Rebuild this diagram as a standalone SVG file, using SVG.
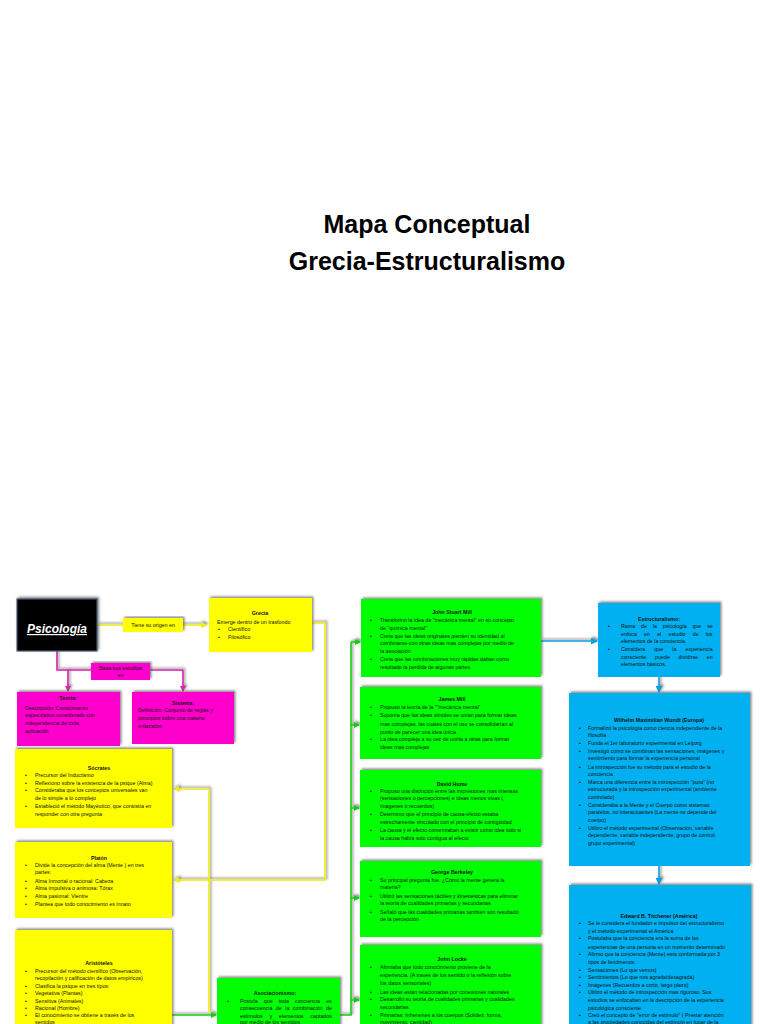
<svg xmlns="http://www.w3.org/2000/svg" width="768" height="1024" viewBox="0 0 768 1024">
<style>
.t{font-family:"Liberation Sans",Arial,sans-serif;font-size:5.3px;fill:#111}
.b{font-weight:bold}
.c{text-anchor:middle}
.title{font-family:"Liberation Sans",Arial,sans-serif;font-size:25px;font-weight:bold;fill:#000;text-anchor:middle}
.y{fill:#FFFF00}
.m{fill:#FF00CC}
.g{fill:#00FF00}
.bl{fill:#00B0F0}
.ln{fill:none;stroke-width:1.6}
</style>
<defs>
<filter id="sh" x="-10%" y="-10%" width="120%" height="120%">
<feDropShadow dx="1.5" dy="-1.5" stdDeviation="0.8" flood-color="#555" flood-opacity="0.7"/>
</filter>
<marker id="ay" markerWidth="6" markerHeight="6" refX="5" refY="3" orient="auto" markerUnits="userSpaceOnUse"><path d="M0,0 L6,3 L0,6 Z" fill="#F0F000"/></marker>
<marker id="am" markerWidth="6" markerHeight="6" refX="5" refY="3" orient="auto" markerUnits="userSpaceOnUse"><path d="M0,0 L6,3 L0,6 Z" fill="#E020B0"/></marker>
<marker id="ag" markerWidth="6" markerHeight="6" refX="5" refY="3" orient="auto" markerUnits="userSpaceOnUse"><path d="M0,0 L6,3 L0,6 Z" fill="#10D010"/></marker>
<marker id="ab" markerWidth="7" markerHeight="7" refX="6" refY="3.5" orient="auto" markerUnits="userSpaceOnUse"><path d="M0,0 L7,3.5 L0,7 Z" fill="#0AA0E0"/></marker>
</defs>
<rect width="768" height="1024" fill="#fff"/>
<text class="title" x="427" y="233">Mapa Conceptual</text>
<text class="title" x="427" y="270">Grecia-Estructuralismo</text>

<g id="connectors" filter="url(#sh)">
<path class="ln" stroke="#F0F000" d="M97,625 H206" marker-end="url(#ay)"/>
<path class="ln" stroke="#F0F000" d="M312,623 H325 V880 H174" marker-end="url(#ay)"/>
<path class="ln" stroke="#F0F000" d="M209,789 H174" marker-end="url(#ay)"/>
<path class="ln" stroke="#F0F000" d="M209,789 V1013"/>
<path class="ln" stroke="#E020B0" d="M57,651 V670 H183"/>
<path class="ln" stroke="#E020B0" d="M68,670 V691" marker-end="url(#am)"/>
<path class="ln" stroke="#E020B0" d="M183,670 V691" marker-end="url(#am)"/>
<path class="ln" stroke="#10D010" d="M172,1015 H216" marker-end="url(#ag)"/>
<path class="ln" stroke="#10D010" d="M340,1015 H351 V642"/>
<path class="ln" stroke="#10D010" d="M351,642 H360" marker-end="url(#ag)"/>
<path class="ln" stroke="#10D010" d="M351,725 H359" marker-end="url(#ag)"/>
<path class="ln" stroke="#10D010" d="M351,808 H359" marker-end="url(#ag)"/>
<path class="ln" stroke="#10D010" d="M351,898 H359" marker-end="url(#ag)"/>
<path class="ln" stroke="#10D010" d="M351,1000 H359" marker-end="url(#ag)"/>
<path class="ln" stroke="#0AA0E0" d="M541,641 H597" marker-end="url(#ab)"/>
<path class="ln" stroke="#0AA0E0" d="M659,677 V692" marker-end="url(#ab)"/>
<path class="ln" stroke="#0AA0E0" d="M659,866 V884" marker-end="url(#ab)"/>
</g>

<g id="psicologia">
<rect x="17" y="599" width="80" height="52" fill="#000" stroke="#4a5a72" stroke-width="1.2" filter="url(#sh)"/>
<text x="57" y="633" font-family="Liberation Sans,Arial,sans-serif" font-size="12" font-weight="bold" font-style="italic" fill="#fff" text-anchor="middle" text-decoration="underline">Psicología</text>
</g>

<g id="lbl-origen">
<rect class="y" x="123" y="618" width="60" height="14" filter="url(#sh)"/>
<text class="t c" x="153" y="627">Tiene su origen en</text>
</g>

<g id="lbl-basa">
<rect class="m" x="91" y="663" width="59" height="17" filter="url(#sh)"/>
<text class="t c" x="120.5" y="670">Basa sus estudios</text>
<text class="t c" x="120.5" y="677">en</text>
</g>

<g id="grecia">
<rect class="y" x="209" y="598" width="103" height="54" filter="url(#sh)"/>
<text class="t b c" x="260" y="615">Grecia</text>
<text class="t" x="217" y="624">Emerge dentro de un trasfondo</text>
<text class="t" x="218" y="631">•</text><text class="t" x="228" y="631">Científico</text>
<text class="t" x="218" y="639">•</text><text class="t" x="228" y="639">Filosófico</text>
</g>

<g id="teoria">
<rect class="m" x="17" y="692" width="103" height="54" filter="url(#sh)"/>
<text class="t b c" x="68" y="700">Teoría:</text>
<text class="t" x="25" y="710">Descripción: Conocimiento</text>
<text class="t" x="25" y="717">especulativo considerado con</text>
<text class="t" x="25" y="725">independencia de toda</text>
<text class="t" x="25" y="733">aplicación</text>
</g>

<g id="sistema">
<rect class="m" x="132" y="692" width="102" height="52" filter="url(#sh)"/>
<text class="t b c" x="183" y="705">Sistema:</text>
<text class="t" x="138" y="712">Definición: Conjunto de reglas y</text>
<text class="t" x="138" y="720">principios sobre una materia</text>
<text class="t" x="138" y="728">enlazados</text>
</g>

<g id="socrates">
<rect class="y" x="15" y="749" width="157" height="79" filter="url(#sh)"/>
<text class="t b c" x="99" y="770">Sócrates</text>
<text class="t" x="25" y="777">•</text><text class="t" x="35" y="777">Precursor del Inductismo</text>
<text class="t" x="25" y="785">•</text><text class="t" x="35" y="785">Reflexiono sobre la existencia de la psique (Alma)</text>
<text class="t" x="25" y="792">•</text><text class="t" x="35" y="792">Consideraba que los conceptos universales van</text>
<text class="t" x="35" y="800">de lo simple a lo complejo</text>
<text class="t" x="25" y="808">•</text><text class="t" x="35" y="808">Estableció el método Mayéutico, que consistía en</text>
<text class="t" x="35" y="816">responder con otra pregunta</text>
</g>

<g id="platon">
<rect class="y" x="15" y="842" width="157" height="76" filter="url(#sh)"/>
<text class="t b c" x="99" y="860">Platón</text>
<text class="t" x="25" y="867">•</text><text class="t" x="35" y="867">Divide la concepción del alma (Mente ) en tres</text>
<text class="t" x="35" y="874">partes:</text>
<text class="t" x="25" y="883">•</text><text class="t" x="35" y="883">Alma Inmortal o racional: Cabeza</text>
<text class="t" x="25" y="890">•</text><text class="t" x="35" y="890">Alma impulsiva o animosa: Tórax</text>
<text class="t" x="25" y="898">•</text><text class="t" x="35" y="898">Alma pasional: Vientre</text>
<text class="t" x="25" y="906">•</text><text class="t" x="35" y="906">Plantea que todo conocimiento es innato</text>
</g>

<g id="aristoteles">
<rect class="y" x="15" y="930" width="157" height="100" filter="url(#sh)"/>
<text class="t b c" x="99" y="965">Aristóteles</text>
<text class="t" x="25" y="973">•</text><text class="t" x="35" y="973">Precursor del método científico (Observación,</text>
<text class="t" x="35" y="980">recopilación y calificación de datos empíricos)</text>
<text class="t" x="25" y="988">•</text><text class="t" x="35" y="988">Clasifica la psique en tres tipos:</text>
<text class="t" x="25" y="995">•</text><text class="t" x="35" y="995">Vegetativa (Plantas)</text>
<text class="t" x="25" y="1003">•</text><text class="t" x="35" y="1003">Sensitiva (Animales)</text>
<text class="t" x="25" y="1010">•</text><text class="t" x="35" y="1010">Racional (Hombre)</text>
<text class="t" x="25" y="1017">•</text><text class="t" x="35" y="1017">El conocimiento se obtiene a través de los</text>
<text class="t" x="35" y="1024">sentidos</text>
</g>

<g id="asociacionismo">
<rect class="g" x="217" y="978" width="123" height="50" filter="url(#sh)"/>
<text class="t b c" x="275" y="995">Asociacionismo:</text>
<text class="t" x="227" y="1003">•</text><text class="t" x="240" y="1003" word-spacing="4.6">Postula que toda conciencia es</text>
<text class="t" x="240" y="1010" word-spacing="2">consecuencia de la combinación de</text>
<text class="t" x="240" y="1018" word-spacing="5.4">estímulos y elementos captados</text>
<text class="t" x="240" y="1024">por medio de los sentidos</text>
</g>

<g id="jsmill">
<rect class="g" x="361" y="599" width="180" height="78" filter="url(#sh)"/>
<text class="t b c" x="452" y="614">John Stuart Mill</text>
<text class="t" x="370" y="622">•</text><text class="t" x="380" y="622">Transformó la idea de "mecánica mental" en su concepto</text>
<text class="t" x="380" y="630">de "química mental"</text>
<text class="t" x="370" y="638">•</text><text class="t" x="380" y="638">Creía que las ideas originales pierden su identidad al</text>
<text class="t" x="380" y="645">combinarse con otras ideas mas complejas por medio de</text>
<text class="t" x="380" y="653">la asociación</text>
<text class="t" x="370" y="661">•</text><text class="t" x="380" y="661">Creía que las combinaciones muy rápidas daban como</text>
<text class="t" x="380" y="669">resultado la perdida de algunas partes</text>
</g>

<g id="jamesmill">
<rect class="g" x="360" y="687" width="181" height="72" filter="url(#sh)"/>
<text class="t b c" x="452" y="701">James Mill</text>
<text class="t" x="370" y="709">•</text><text class="t" x="380" y="709">Propuso la teoría de la ""mecánica mental"</text>
<text class="t" x="370" y="717">•</text><text class="t" x="380" y="717">Suponía que las ideas simples se unían para formar ideas</text>
<text class="t" x="380" y="726">mas complejas, las cuales con el uso se consolidarían al</text>
<text class="t" x="380" y="734">punto de parecer una idea única.</text>
<text class="t" x="370" y="741">•</text><text class="t" x="380" y="741">La idea compleja a su vez de unirla a otras para formar</text>
<text class="t" x="380" y="749">ideas mas complejas</text>
</g>

<g id="hume">
<rect class="g" x="360" y="770" width="181" height="77" filter="url(#sh)"/>
<text class="t b c" x="452" y="786">David Hume</text>
<text class="t" x="370" y="793">•</text><text class="t" x="380" y="793">Propuso una distinción entre las impresiones mas intensas</text>
<text class="t" x="380" y="800">(sensaciones o percepciones) e ideas menos vivas (</text>
<text class="t" x="380" y="808">imágenes o recuerdos)</text>
<text class="t" x="370" y="816">•</text><text class="t" x="380" y="816">Determino que el principio de causa-efecto estaba</text>
<text class="t" x="380" y="824">estrechamente vinculado con el principio de contigüidad</text>
<text class="t" x="370" y="832">•</text><text class="t" x="380" y="832">La causa y el efecto comenzaban a existir como idea solo si</text>
<text class="t" x="380" y="840">la causa había sido contigua al efecto</text>
</g>

<g id="berkeley">
<rect class="g" x="360" y="861" width="181" height="76" filter="url(#sh)"/>
<text class="t b c" x="452" y="874">George Berkeley</text>
<text class="t" x="370" y="882">•</text><text class="t" x="380" y="882">Su principal pregunta fue, ¿Cómo la mente genera la</text>
<text class="t" x="380" y="889">materia?</text>
<text class="t" x="370" y="898">•</text><text class="t" x="380" y="898">Utilizó las sensaciones táctiles y kinestésicas para eliminar</text>
<text class="t" x="380" y="905">la teoría de cualidades primarias y secundarias</text>
<text class="t" x="370" y="914">•</text><text class="t" x="380" y="914">Señaló que las cualidades primarias también son resultado</text>
<text class="t" x="380" y="921">de la percepción</text>
</g>

<g id="locke">
<rect class="g" x="360" y="945" width="181" height="85" filter="url(#sh)"/>
<text class="t b c" x="452" y="961">John Locke</text>
<text class="t" x="370" y="969">•</text><text class="t" x="380" y="969">Afirmaba que todo conocimiento proviene de la</text>
<text class="t" x="380" y="977">experiencia. (A través de los sentido o la reflexión sobre</text>
<text class="t" x="380" y="985">los datos sensoriales)</text>
<text class="t" x="370" y="994">•</text><text class="t" x="380" y="994">Las ideas están relacionadas por conexiones naturales</text>
<text class="t" x="370" y="1001">•</text><text class="t" x="380" y="1001">Desarrollo su teoría de cualidades primarias y cualidades</text>
<text class="t" x="380" y="1009">secundarias</text>
<text class="t" x="370" y="1017">•</text><text class="t" x="380" y="1017">Primarias: Inherentes a los cuerpos (Solidez, forma,</text>
<text class="t" x="380" y="1024">movimiento, cantidad)</text>
</g>

<g id="estructuralismo">
<rect class="bl" x="598" y="603" width="122" height="74" filter="url(#sh)"/>
<text class="t b c" x="659" y="621">Estructuralismo:</text>
<text class="t" x="608" y="628">•</text><text class="t" x="621" y="628" word-spacing="4.4">Rama de la psicología que se</text>
<text class="t" x="621" y="636" word-spacing="5.7">enfoca en el estudio de los</text>
<text class="t" x="621" y="643">elementos de la conciencia.</text>
<text class="t" x="608" y="651">•</text><text class="t" x="621" y="651" word-spacing="7.7">Considera que la experiencia</text>
<text class="t" x="621" y="659" word-spacing="7.3">consciente puede dividirse en</text>
<text class="t" x="621" y="666">elementos básicos.</text>
</g>

<g id="wundt">
<rect class="bl" x="569" y="693" width="181" height="173" filter="url(#sh)"/>
<text class="t b c" x="659" y="722">Wilhelm Maximilian Wundt (Europa)</text>
<text class="t" x="579" y="730">•</text><text class="t" x="588" y="730">Formalizó la psicología como ciencia independiente de la</text>
<text class="t" x="588" y="737">filosofía</text>
<text class="t" x="579" y="745">•</text><text class="t" x="588" y="745">Funda el 1er laboratorio experimental en Leipzig</text>
<text class="t" x="579" y="753">•</text><text class="t" x="588" y="753">Investigó como se combinan las sensaciones, imágenes y</text>
<text class="t" x="588" y="760">sentimiento para formar la experiencia personal</text>
<text class="t" x="579" y="769">•</text><text class="t" x="588" y="769">La introspección fue su método para el estudio de la</text>
<text class="t" x="588" y="776">conciencia</text>
<text class="t" x="579" y="784">•</text><text class="t" x="588" y="784">Marca una diferencia entre la introspección "pura" (no</text>
<text class="t" x="588" y="791">estructurada y la introspección experimental (ambiente</text>
<text class="t" x="588" y="799">controlado)</text>
<text class="t" x="579" y="807">•</text><text class="t" x="588" y="807">Consideraba a la Mente y el Cuerpo como sistemas</text>
<text class="t" x="588" y="814">paralelos, no interactuantes (La mente no depende del</text>
<text class="t" x="588" y="822">cuerpo)</text>
<text class="t" x="579" y="830">•</text><text class="t" x="588" y="830">Utilizo el método experimental (Observación, variable</text>
<text class="t" x="588" y="837">dependiente, variable independiente, grupo de control,</text>
<text class="t" x="588" y="845">grupo experimental)</text>
</g>

<g id="titchener">
<rect class="bl" x="569" y="885" width="182" height="145" filter="url(#sh)"/>
<text class="t b c" x="659" y="918">Edward B. Titchener (América)</text>
<text class="t" x="579" y="925">•</text><text class="t" x="588" y="925">Se le considera el fundador e impulsor del estructuralismo</text>
<text class="t" x="588" y="933">y el método experimental el América</text>
<text class="t" x="579" y="940">•</text><text class="t" x="588" y="940">Postulaba que la conciencia era la suma  de las</text>
<text class="t" x="588" y="949">experiencias de una persona en un momento determinado</text>
<text class="t" x="579" y="956">•</text><text class="t" x="588" y="956">Afirmo que la conciencia (Mente) esta conformada por 3</text>
<text class="t" x="588" y="964">tipos de fenómenos:</text>
<text class="t" x="579" y="972">•</text><text class="t" x="588" y="972">Sensaciones (Lo que vemos)</text>
<text class="t" x="579" y="979">•</text><text class="t" x="588" y="979">Sentimientos (Lo que nos agrada/desagrada)</text>
<text class="t" x="579" y="987">•</text><text class="t" x="588" y="987">Imágenes (Recuerdos a corto, largo plazo)</text>
<text class="t" x="579" y="994">•</text><text class="t" x="588" y="994">Utilizo el método de introspección mas riguroso. Sus</text>
<text class="t" x="588" y="1002">estudios se enfocaban en la descripción de la experiencia</text>
<text class="t" x="588" y="1010">psicológica consciente.</text>
<text class="t" x="579" y="1017">•</text><text class="t" x="588" y="1017">Creó el concepto de "error de estimulo" ( Prestar atención</text>
<text class="t" x="588" y="1024">a las propiedades conocidas del estimulo en lugar de la</text>
</g>
</svg>
